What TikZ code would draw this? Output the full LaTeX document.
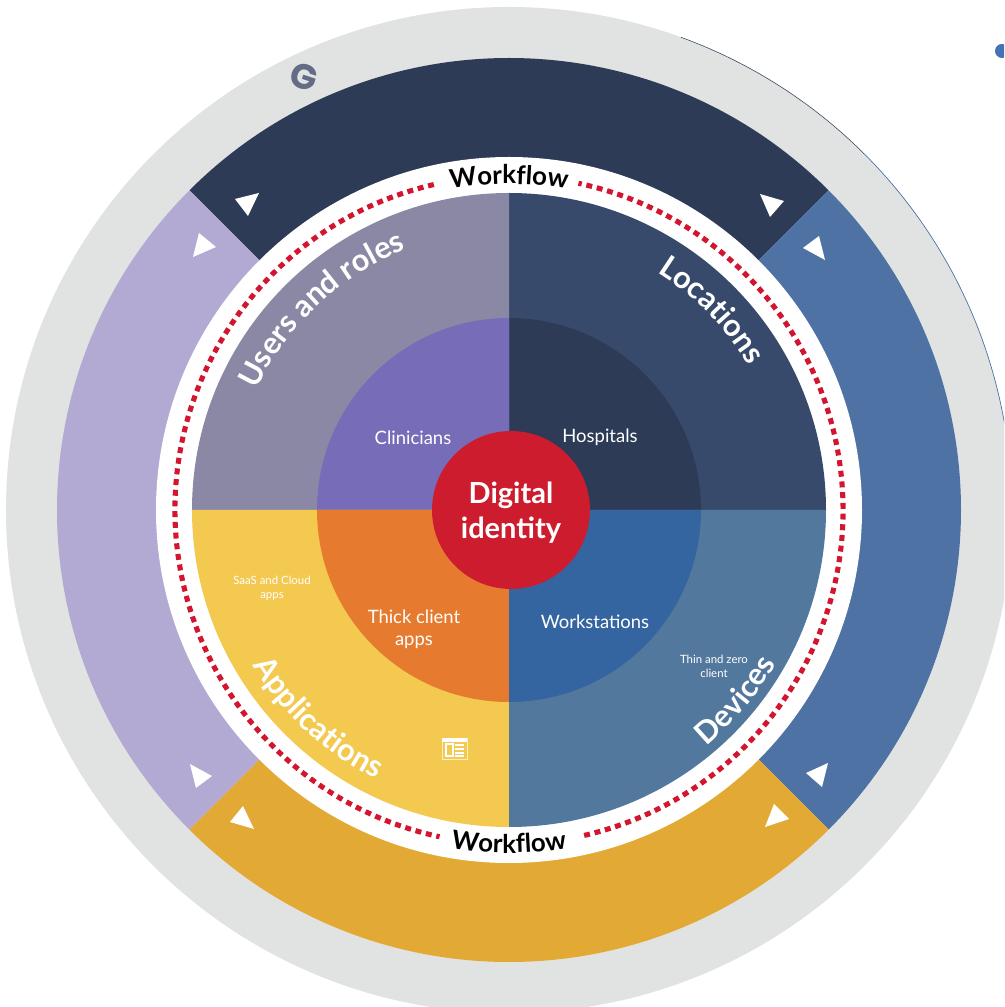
\documentclass[tikz,border=0pt]{standalone}
\usepackage{fontspec}
\setmainfont{Lato}
\newfontfamily\markfont{Poppins}
\usetikzlibrary{decorations.text}
\definecolor{ringgray}{HTML}{E1E3E2}
\definecolor{navy}{HTML}{2D3B57}
\definecolor{steel}{HTML}{4E72A4}
\definecolor{amber}{HTML}{E2AA34}
\definecolor{lilac}{HTML}{B2AAD2}
\definecolor{usersq}{HTML}{8A88A4}
\definecolor{locationsq}{HTML}{374A6C}
\definecolor{devicesq}{HTML}{52789D}
\definecolor{appsq}{HTML}{F3C950}
\definecolor{clinicianq}{HTML}{776CB8}
\definecolor{workstationq}{HTML}{3565A0}
\definecolor{thickq}{HTML}{E67B2F}
\definecolor{coreRed}{HTML}{CE1C2F}
\definecolor{dotred}{HTML}{D3162F}
\definecolor{letterG}{HTML}{636B85}
\definecolor{dotblue}{HTML}{4472B4}
\tikzset{
	smalllabel/.style={text=white, align=center, font=\fontsize{10.5}{12.5}\selectfont},
	tinylabel/.style={text=white, align=center, font=\fontsize{6.5}{8}\selectfont},
	dotring/.style={dotred, line width=2.9pt, dash pattern=on 3.4pt off 2.7pt},
	arrowmark/.style={fill=white}
}
\newcommand{\bigwhite}{\fontsize{17.5}{17.5}\selectfont\bfseries\color{white}}
\newcommand{\bigblack}{\fontsize{14.7}{14.7}\selectfont\bfseries\color{black}}
\begin{document}
\begin{tikzpicture}[x=0.02cm, y=0.02cm]
\def \outer {503}
\def \band {452}
\def \gap {353}
\def \dots {334}
\def \quad {317}
\def \mid {192}

\useasboundingbox (-509,-497) rectangle (495,510);
\clip (-509,-497) rectangle (495,510);

\fill[ringgray] (0,0) circle (\outer);
\draw[navy, line width=0.3pt] (45:\outer) arc (45:70:\outer);
\draw[steel, line width=0.4pt] (45:\outer) arc (45:0:\outer);

% outer band, one piece per side
\foreach \a/\col in {45/navy, -45/steel, -135/amber, 135/lilac}
{
	\fill[\col] (\a:\gap) -- (\a:\band) arc (\a:\a+90:\band) -- ({\a+90}:\gap) -- cycle;
}
\fill[white] (0,0) circle (\gap);

\foreach \a/\col/\colin in {0/locationsq/navy, 90/usersq/clinicianq, 180/appsq/thickq, 270/devicesq/workstationq}
{
	\fill[\col] (0,0) -- (\a:\quad) arc (\a:\a+90:\quad) -- cycle;
	\fill[\colin] (0,0) -- (\a:\mid) arc (\a:\a+90:\mid) -- cycle;
}

\draw[dotring] (-77:\dots) arc (-77:78:\dots);
\draw[dotring] (103:\dots) arc (103:258:\dots);

% arrow marks on the band
\foreach \p/\q/\r in {
	{-274,311}/{-250,317}/{-261,294}, {-310,277}/{-293,263}/{-316,253},
	{251,316}/{275,309}/{261,293}, {310,274}/{316,250}/{294,262},
	{-319,-254}/{-297,-266}/{-313,-278}, {-266,-296}/{-255,-319}/{-279,-312},
	{319,-253}/{313,-277}/{297,-263}, {265,-294}/{280,-309}/{256,-317}}
{
	\fill[arrowmark] (\p) -- (\q) -- (\r) -- cycle;
}

\node[circle, fill=coreRed, minimum size=3.16cm, inner sep=0pt] (core) at (2,0) {};
\node[text=white, align=center, font=\fontsize{16.5}{20}\selectfont\bfseries] (coretext) at (2,-3) {Digital\\identity};

\node[smalllabel] (clinicians) at (-96,72) {Clinicians};
\node[smalllabel] (hospitals) at (91,73) {Hospitals};
\node[smalllabel] (thick) at (-95,-119) {Thick client\\apps};
\node[smalllabel] (workstations) at (86,-112) {Workstations};
\node[tinylabel] (saas) at (-237,-78) {SaaS and Cloud\\apps};
\node[tinylabel] (thin) at (205,-156) {Thin and zero\\client};
\node[text=letterG, rotate=-18, font=\markfont\fontsize{20}{20}\selectfont\bfseries] (gmark) at (-205,433) {G};
\node[circle, fill=dotblue, minimum size=0.28cm, inner sep=0pt] (bluedot) at (493,459) {};

% curved titles
\path[decorate, decoration={text along path, text align=center, text={|\bigwhite|Users and roles}}]
	(160:280) arc (160:106:280);
\path[decorate, decoration={text along path, text align=center, text={|\bigwhite|Locations}}]
	(64:280) arc (64:25:280);
\path[decorate, decoration={text along path, text align=center, text={|\bigwhite|Applications}}]
	(205:300) arc (205:250:300);
\path[decorate, decoration={text along path, text align=center, text={|\bigwhite|Devices}}]
	(-55:308) arc (-55:-25:308);
\path[decorate, decoration={text along path, text align=center, text={|\bigblack|Workflow}}]
	(102:326) arc (102:78:326);
\path[decorate, decoration={text along path, text align=center, text={|\bigblack|Workflow}}]
	(259:343) arc (259:281:343);

% window icon
\draw[white!70!appsq, line width=0.5pt] (-67,-228) rectangle (-42,-249);
\fill[white] (-67,-228) rectangle (-42,-232);
\draw[white, line width=0.6pt] (-63,-234) rectangle (-56,-246);
\foreach \y in {-235,-239,-243,-246}
{
	\draw[white, line width=0.7pt] (-54,\y) -- (-45,\y);
}
\end{tikzpicture}
\end{document}
